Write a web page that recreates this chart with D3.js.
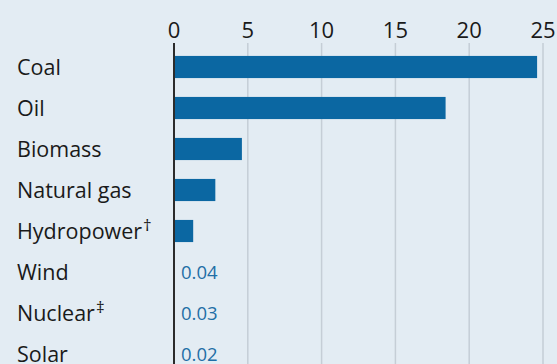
<!DOCTYPE html>
<html><head><meta charset="utf-8">
<script src="https://cdn.jsdelivr.net/npm/d3@7"></script>
<style>
html,body{margin:0;padding:0;background:#e3ecf3;}
svg{display:block;}
text{font-family:"Open Sans",sans-serif;}
</style></head>
<body>
<svg id="c" width="557" height="364"></svg>
<script>
const categories = ["Coal","Oil","Biomass","Natural gas","Hydropower","Wind","Nuclear","Solar"];
const marks = ["","","","","†","","‡",""];
const values = [24.6, 18.4, 4.6, 2.8, 1.3, 0.04, 0.03, 0.02];
const valueLabels = ["","","","","","0.04","0.03","0.02"];
const ticks = [0,5,10,15,20,25];

const svg = d3.select("#c");
const W = 557, H = 364;
svg.append("rect").attr("width",W).attr("height",H).attr("fill","#e3ecf3");

const x = d3.scaleLinear().domain([0,25]).range([174,543]);
const y = d3.scaleBand().domain(categories).range([46.5, 46.5+8*41]).paddingInner(0.46).paddingOuter(0.23);

// gridlines
svg.append("g").selectAll("line").data(ticks.slice(1)).join("line")
  .attr("x1",d=>x(d)).attr("x2",d=>x(d)).attr("y1",43).attr("y2",H)
  .attr("stroke","#c5ced6").attr("stroke-width",1.5);

// tick labels
svg.append("g").selectAll("text").data(ticks).join("text")
  .attr("x",d=>x(d)).attr("y",38).attr("text-anchor","middle")
  .attr("font-size",22).attr("fill","#1a1a1a").text(d=>d);

// bars
svg.append("g").selectAll("rect").data(values).join("rect")
  .attr("x",x(0)).attr("y",(d,i)=>y(categories[i]))
  .attr("width",d=>x(d)-x(0)).attr("height",y.bandwidth())
  .attr("fill","#0b67a2");

// zero axis
svg.append("line").attr("x1",x(0)).attr("x2",x(0)).attr("y1",43).attr("y2",H)
  .attr("stroke","#2b2b2b").attr("stroke-width",2);

// category labels
const lab = svg.append("g").selectAll("text").data(categories).join("text")
  .attr("x",17).attr("y",d=>y(d)+y.bandwidth()/2+7.5)
  .attr("font-size",21.5).attr("fill","#1a1a1a");
lab.append("tspan").text(d=>d);
lab.append("tspan").attr("dx",1).attr("dy",-8).attr("font-size",17).text((d,i)=>marks[i]);

// value labels
svg.append("g").selectAll("text").data(values).join("text")
  .attr("x",(d)=>x(0)+7).attr("y",(d,i)=>y(categories[i])+y.bandwidth()/2+6.5)
  .attr("font-size",18.5).attr("fill","#1f6fa6").text((d,i)=>valueLabels[i]);
</script>
</body></html>
